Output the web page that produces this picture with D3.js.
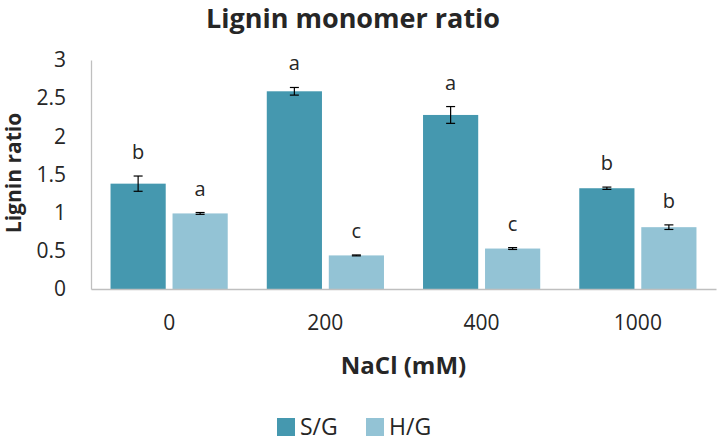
<!DOCTYPE html>
<html>
<head>
<meta charset="utf-8">
<script src="https://cdn.jsdelivr.net/npm/d3@7"></script>
<style>
  body { margin: 0; background: #fff; }
  text { font-family: "Open Sans", "DejaVu Sans", sans-serif; fill: #262626; }
</style>
</head>
<body>
<div id="chart"></div>
<script>
// chart data
const concentrations = ["0", "200", "400", "1000"];
const seriesNames = ["S/G", "H/G"];
const sgValues = [1.38, 2.59, 2.28, 1.32];
const sgErrors = [0.10, 0.05, 0.11, 0.015];
const sgLetters = ["b", "a", "a", "b"];
const hgValues = [0.99, 0.44, 0.53, 0.81];
const hgErrors = [0.012, 0.006, 0.012, 0.03];
const hgLetters = ["a", "c", "c", "b"];
const yTicks = [0, 0.5, 1, 1.5, 2, 2.5, 3];

const colors = ["#4598AF", "#93C3D5"];

const W = 717, H = 441;
const margin = { top: 60, right: 1, bottom: 152, left: 91 };
const width = W - margin.left - margin.right;
const height = H - margin.top - margin.bottom;

const svg = d3.select("#chart").append("svg")
    .attr("width", W)
    .attr("height", H);

const g = svg.append("g")
    .attr("transform", `translate(${margin.left},${margin.top})`);

const x = d3.scaleBand()
    .domain(concentrations)
    .range([0, width])
    .paddingInner(0.25)
    .paddingOuter(0.125);

const x1 = d3.scaleBand()
    .domain(seriesNames)
    .range([0, x.bandwidth()])
    .paddingInner(0.11);

const y = d3.scaleLinear()
    .domain([0, 3])
    .range([height, 0]);

// rows for bars
const rows = [];
concentrations.forEach((c, i) => {
    rows.push({ c, s: "S/G", v: sgValues[i], e: sgErrors[i], l: sgLetters[i], col: colors[0] });
    rows.push({ c, s: "H/G", v: hgValues[i], e: hgErrors[i], l: hgLetters[i], col: colors[1] });
});

// y axis
const yAxis = g.append("g")
    .call(d3.axisLeft(y).tickValues(yTicks).tickSize(0).tickPadding(25).tickFormat(d => d));
yAxis.select(".domain").attr("stroke", "#BFBFBF").attr("stroke-width", 1.3);
yAxis.selectAll("text").style("font-size", "21px").attr("fill", "#262626");

// bars
g.selectAll("rect.bar")
    .data(rows)
    .enter()
    .append("rect")
    .attr("class", "bar")
    .attr("x", d => x(d.c) + x1(d.s))
    .attr("y", d => y(d.v))
    .attr("width", x1.bandwidth())
    .attr("height", d => height - y(d.v))
    .attr("fill", d => d.col);

// error bars
const cap = 4.5;
const cx = d => x(d.c) + x1(d.s) + x1.bandwidth() / 2;
const err = g.selectAll("g.err")
    .data(rows)
    .enter()
    .append("g")
    .attr("class", "err")
    .attr("stroke", "#000")
    .attr("stroke-width", 1.2);
err.append("line")
    .attr("x1", cx)
    .attr("x2", cx)
    .attr("y1", d => y(d.v + d.e))
    .attr("y2", d => y(d.v - d.e));
err.append("line")
    .attr("x1", d => cx(d) - cap)
    .attr("x2", d => cx(d) + cap)
    .attr("y1", d => y(d.v + d.e))
    .attr("y2", d => y(d.v + d.e));
err.append("line")
    .attr("x1", d => cx(d) - cap)
    .attr("x2", d => cx(d) + cap)
    .attr("y1", d => y(d.v - d.e))
    .attr("y2", d => y(d.v - d.e));

// letters
g.selectAll("text.letter")
    .data(rows)
    .enter()
    .append("text")
    .attr("class", "letter")
    .attr("x", cx)
    .attr("y", d => y(d.v + d.e) - 17)
    .attr("text-anchor", "middle")
    .style("font-size", "20px")
    .text(d => d.l);

// x axis
const xAxis = g.append("g")
    .attr("transform", `translate(0,${height})`)
    .call(d3.axisBottom(x).tickSize(0).tickPadding(26));
xAxis.select(".domain").attr("stroke", "#BFBFBF").attr("stroke-width", 1.3);
xAxis.selectAll("text").style("font-size", "21px").attr("fill", "#262626");

// titles
svg.append("text")
    .attr("x", 353)
    .attr("y", 27.5)
    .attr("text-anchor", "middle")
    .style("font-size", "27px")
    .style("font-weight", "bold")
    .text("Lignin monomer ratio");

svg.append("text")
    .attr("x", margin.left + width / 2)
    .attr("y", 374)
    .attr("text-anchor", "middle")
    .style("font-size", "24px")
    .style("font-weight", "bold")
    .text("NaCl (mM)");

svg.append("text")
    .attr("transform", "rotate(-90)")
    .attr("x", -173)
    .attr("y", 21)
    .attr("text-anchor", "middle")
    .style("font-size", "21px")
    .style("font-weight", "bold")
    .text("Lignin ratio");

// legend
const legendX = [277, 366];
const legend = svg.selectAll("g.legend")
    .data(seriesNames)
    .enter()
    .append("g")
    .attr("class", "legend")
    .attr("transform", (d, i) => `translate(${legendX[i]},418)`);
legend.append("rect")
    .attr("width", 18)
    .attr("height", 18)
    .attr("fill", (d, i) => colors[i]);
legend.append("text")
    .attr("x", 23)
    .attr("y", 17)
    .style("font-size", "23px")
    .text(d => d);
</script>
</body>
</html>
